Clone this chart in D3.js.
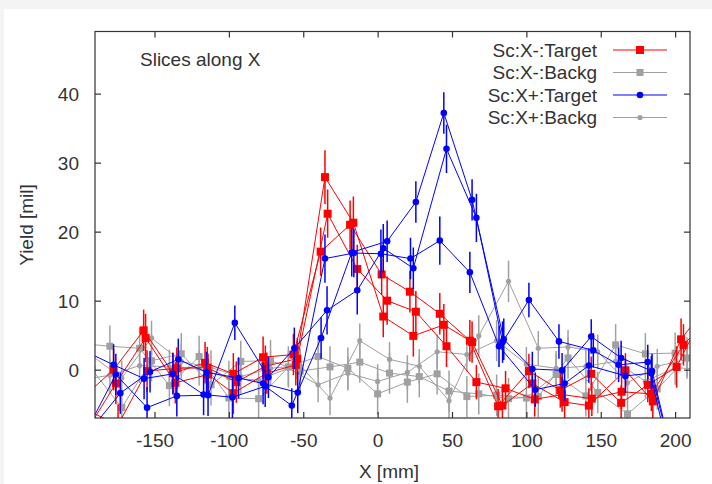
<!DOCTYPE html>
<html>
<head>
<meta charset="utf-8">
<script src="https://cdn.jsdelivr.net/npm/d3@7"></script>
<style>
  body { margin: 0; background: #f4f4f4; }
  svg text { font-family: "Liberation Sans", Arial, sans-serif; fill: #333; }
</style>
</head>
<body>
<div id="chart"></div>
<script>
// ---- data ----
// Sc:X-:Target (three slices)
var redX1 = [-198, -177.5, -157.3, -137.6, -116, -97, -77, -56.6, -38.3, -18.5, 2.7, 21.7, 41.8, 62, 81, 101.7, 122.8, 143.6, 163.7, 181.6, 201, 221];
var redY1 = [-4, 0, 5.7, -0.5, 1, -0.6, 1.8, 2.2, 17.1, 21.0, 13.8, 11.3, 8.1, 4.2, -5.3, -0.2, -3, -0.6, -4.8, -2.2, 0.4, 9];
var redE1 = [3, 3, 3, 3, 3, 3, 3, 3, 3.5, 3.5, 3, 3, 3, 3, 2.5, 2.5, 2.5, 2.5, 2.5, 2.5, 3, 3];
var redX2 = [-196, -176, -156, -136, -114, -97, -74.5, -55, -35.4, -16.3, 3.8, 24, 44.5, 63.5, 83.9, 104, 125.7, 142, 166.6, 185, 204, 224];
var redY2 = [-9, -2, 4.6, -1.9, -0.7, -3.4, -0.5, 0.7, 27.9, 21.3, 7.7, 4.9, 6.5, 4.0, -5.2, -2, -4.7, -5.2, -0.1, -4.6, 4.4, 10];
var redE2 = [3, 3, 3.5, 3, 3, 3, 3, 3, 3.9, 3.8, 3, 3, 3, 3, 2.5, 2.5, 2.5, 2.5, 2.5, 2.5, 3, 3];
var redX3 = [-194, -174.5, -155, -135, -114.5, -95, -75.5, -54, -33.6, -13.7, 6.4, 25.7, 46.3, 66.4, 86, 105.6, 124, 144, 164, 184, 205.6, 225];
var redY3 = [-6, -8, -0.2, 0.2, 0.3, -1.8, 0.5, 1.6, 22.6, 14.6, 10, 8.4, 3.4, -1.8, -2.7, -4.3, -3.6, -4.2, -3.2, -3.5, 3.6, 8];
var redE3 = [3, 3, 3, 3, 3, 3, 3, 3, 3.5, 3.5, 3.5, 3, 3, 2.5, 2.5, 2.5, 2.5, 2.5, 2.5, 2.5, 3, 3];

// Sc:X+:Target (three slices)
var bluX1 = [-198, -177.5, -157, -137.6, -117, -97.6, -75.6, -57.7, -38, -17.4, 6.4, 25.7, 44.5, 63.5, 84.8, 104, 124, 143.6, 163.7, 184.5, 204];
var bluY1 = [2.8, 0.7, -1.3, -0.6, -3.6, -4, -2.4, -5.2, 4.6, 17, 18.6, 24.3, 37.2, 24.6, 4.4, 0.1, -0.1, 4.8, 1.7, -0.2, -18];
var bluE1 = [3, 3, 3, 3, 3, 3, 3, 2.5, 3, 3.5, 3, 3, 3, 3, 3, 2.5, 2.5, 2.5, 2.5, 2.5, 3];
var bluX2 = [-196, -176, -155, -135, -114, -96, -73.4, -56, -34, -13.7, 3.8, 24, 46.3, 66.4, 84, 101.7, 121.9, 145, 162, 181.6, 202];
var bluY2 = [-9, -0.7, -5.5, -3.8, -3.7, 6.8, -1.1, 3.1, 8.6, 11.5, 17.6, 14.7, 32.0, 22.0, 4.0, 10.1, 4.1, 2.8, 0.7, 1.1, -18];
var bluE2 = [3, 3, 3, 3, 3, 2.5, 3, 3, 3.5, 3.5, 3.5, 3, 3.5, 3.5, 3, 2.5, 2.5, 2.5, 2.5, 2.5, 3];
var bluX3 = [-194, -173, -153, -134, -115, -93.5, -77, -53.7, -35.4, -16, 2.2, 22.1, 41.8, 62, 81.6, 106, 125.7, 142, 166.6, 184, 204];
var bluY3 = [-9, -3.4, -0.3, 1.5, -0.4, -1.2, -2, -3.3, 16.1, 16.9, 16.8, 16.1, 18.7, 14.1, 3.4, -2.9, -2, 0.6, -0.9, -0.5, -18];
var bluE3 = [3, 3, 3, 3, 3, 3, 3, 3, 3.5, 3.5, 3.5, 3, 3.5, 3, 3, 2.5, 2.5, 2.5, 2.5, 2.5, 3];

// Sc:X-:Backg (squares)
var gsqX1 = [-200, -180, -160, -140, -120, -100, -80, -60, -40, -20, 0, 20, 40, 60, 80, 100, 120, 140, 160, 180, 200, 220];
var gsqY1 = [3.8, 3.4, 3.1, -2.3, 1.9, -4.1, -4.2, 0.4, 1.9, 0.2, -3.5, -1.8, -0.6, -3.9, -3.7, -4.1, -0.7, -3.8, 3.6, 2.3, 2.4, 1.5];
var gsqE1 = [3, 3, 3, 3, 3, 3, 3, 3, 3, 3, 3, 3, 3, 3, 3, 3, 3, 3, 3, 3, 3, 3];
var gsqX2 = [-192, -172, -152, -132, -112, -92, -72, -52, -32, -12, 8, 28, 48, 68, 88, 108, 128, 148, 168, 188, 208, 228];
var gsqY2 = [0, -5.5, 1.3, 2.3, -2.2, 1.2, 1.3, -0.2, 0.4, 1.1, -0.5, -1, -3.1, -3.5, -4.2, -3.9, 1.7, -3.3, -6.4, -2.8, 1.7, 2];
var gsqE2 = [3, 2.5, 3, 3, 3, 3, 3, 3, 3, 3, 3, 3, 3, 3, 3, 3, 3, 3, 2.5, 3, 3, 3];
// Sc:X+:Backg (circles)
var gciX1 = [-200, -180, -160, -140, -120, -100, -80, -60, -40, -20, 0, 20, 40, 60, 80, 100, 120, 140, 160, 180, 200, 220];
var gciY1 = [-1.5, -0.8, 0.6, 0.4, 0.2, -1.2, -1.5, 0.2, -2.2, -0.5, -1.7, -0.4, 2.6, 2.2, 4.2, 0.8, 0.2, 0.5, 1.2, -1.7, 0.3, 0];
var gciE1 = [2.5, 2.5, 2.5, 2.5, 2.5, 2.5, 2.5, 2.5, 2.5, 2.5, 2.5, 2.5, 2.5, 2.5, 3, 2.5, 2.5, 2.5, 2.5, 2.5, 2.5, 2.5];
var gciX2 = [-192, -172, -152, -132, -112, -92, -72, -52, -32, -12, 8, 28, 48, 68, 88, 108, 128, 148, 168, 188, 208, 228];
var gciY2 = [2, -1.2, 4.6, 1.2, 0.3, -1, 0.2, 0.6, -4.1, 4.2, 1.5, 0.5, -4.5, 4.9, 12.8, 3.1, 3.3, 2.6, -1.9, 0.5, 1.5, 2];
var gciE2 = [2.5, 2.5, 2.5, 2.5, 2.5, 2.5, 2.5, 2.5, 2.5, 2.5, 2.5, 2.5, 2.5, 3, 3, 2.5, 2.5, 2.5, 2.5, 2.5, 2.5, 2.5];

var xTicks = [-150, -100, -50, 0, 50, 100, 150, 200];
var yTicks = [0, 10, 20, 30, 40];
var legendNames = ["Sc:X-:Target", "Sc:X-:Backg", "Sc:X+:Target", "Sc:X+:Backg"];

// ---- layout ----
var width = 712, height = 484;
var mLeft = 95, mRight = 690, mTop = 31.5, mBottom = 418;
var fs = "19px";

var svg = d3.select("#chart").append("svg")
    .attr("width", width)
    .attr("height", height);

svg.append("rect").attr("width", width).attr("height", height).attr("fill", "#f4f4f4");
svg.append("rect").attr("x", 4).attr("y", 9).attr("width", width - 4).attr("height", height - 9).attr("fill", "#fff");

var x = d3.scaleLinear().domain([-190, 210]).range([mLeft, mRight]);
var y = d3.scaleLinear().domain([-7, 49]).range([mBottom, mTop]);

svg.append("clipPath").attr("id", "plotclip")
  .append("rect").attr("x", mLeft).attr("y", mTop).attr("width", mRight - mLeft).attr("height", mBottom - mTop);

function zip(xs, ys, es) {
    return xs.map(function (d, i) { return { x: d, y: ys[i], e: es[i] }; });
}

// series styles: colour, marker, marker size
var series = [
    { curves: [zip(gsqX1, gsqY1, gsqE1), zip(gsqX2, gsqY2, gsqE2)], color: "#a0a0a0", shape: "square", size: 7 },
    { curves: [zip(gciX1, gciY1, gciE1), zip(gciX2, gciY2, gciE2)], color: "#a0a0a0", shape: "circle", size: 2.6 },
    { curves: [zip(redX1, redY1, redE1), zip(redX2, redY2, redE2), zip(redX3, redY3, redE3)], color: "#ff0000", shape: "square", size: 8 },
    { curves: [zip(bluX1, bluY1, bluE1), zip(bluX2, bluY2, bluE2), zip(bluX3, bluY3, bluE3)], color: "#0000ff", shape: "circle", size: 3.3 }
];

var plot = svg.append("g").attr("clip-path", "url(#plotclip)");
var line = d3.line().x(function (d) { return x(d.x); }).y(function (d) { return y(d.y); });

function drawMarker(g, shape, size, color) {
    if (shape === "square") {
        g.append("rect").attr("x", -size / 2).attr("y", -size / 2)
            .attr("width", size).attr("height", size).attr("fill", color);
    } else {
        g.append("circle").attr("r", size).attr("fill", color);
    }
}

series.forEach(function (s) {
    s.curves.forEach(function (c) {
        plot.append("path").datum(c)
            .attr("d", line)
            .attr("fill", "none")
            .attr("stroke", s.color)
            .attr("stroke-width", 1);

        plot.selectAll(null).data(c).enter().append("line")
            .attr("x1", function (d) { return x(d.x); })
            .attr("x2", function (d) { return x(d.x); })
            .attr("y1", function (d) { return y(d.y - d.e); })
            .attr("y2", function (d) { return y(d.y + d.e); })
            .attr("stroke", s.color)
            .attr("stroke-width", 1.5);

        plot.selectAll(null).data(c).enter().append("g")
            .attr("transform", function (d) { return "translate(" + x(d.x) + "," + y(d.y) + ")"; })
            .each(function () { drawMarker(d3.select(this), s.shape, s.size, s.color); });
    });
});

// ---- axes (gnuplot style: inward ticks, mirrored) ----
var plain = function (d) { return String(d); };
var gx = svg.append("g").attr("transform", "translate(0," + mBottom + ")")
    .call(d3.axisBottom(x).tickValues(xTicks).tickSize(-6).tickFormat(plain));
var gx2 = svg.append("g").attr("transform", "translate(0," + mTop + ")")
    .call(d3.axisTop(x).tickValues(xTicks).tickSize(-6).tickFormat(""));
var gy = svg.append("g").attr("transform", "translate(" + mLeft + ",0)")
    .call(d3.axisLeft(y).tickValues(yTicks).tickSize(-6).tickFormat(plain));
var gy2 = svg.append("g").attr("transform", "translate(" + mRight + ",0)")
    .call(d3.axisRight(y).tickValues(yTicks).tickSize(-6).tickFormat(""));

[gx, gx2, gy, gy2].forEach(function (g) {
    g.select(".domain").remove();
    g.selectAll(".tick line").attr("stroke", "#333").attr("stroke-width", 1.2);
    g.selectAll("text").attr("font-size", fs).attr("font-family", "Liberation Sans, Arial, sans-serif").attr("fill", "#333");
});
gx.selectAll("text").attr("dy", null).attr("y", 29);
gy.selectAll("text").attr("x", -16).attr("dy", "0.35em");

svg.append("rect")
    .attr("x", mLeft).attr("y", mTop)
    .attr("width", mRight - mLeft).attr("height", mBottom - mTop)
    .attr("fill", "none").attr("stroke", "#333").attr("stroke-width", 1.2);

svg.append("text").attr("x", 389).attr("y", 478).attr("text-anchor", "middle")
    .attr("font-size", fs).text("X [mm]");
svg.append("text").attr("transform", "translate(32.5,225) rotate(-90)")
    .attr("text-anchor", "middle").attr("font-size", fs).text("Yield [mil]");
svg.append("text").attr("x", 140).attr("y", 65.5).attr("font-size", fs).text("Slices along X");

// ---- legend ----
var legendStyles = [series[2], series[0], series[3], series[1]];
var legend = svg.append("g");
legendNames.forEach(function (name, i) {
    var cy = 50 + i * 22.5;
    var s = legendStyles[i];
    legend.append("text").attr("x", 597).attr("y", cy + 6.5)
        .attr("text-anchor", "end").attr("font-size", fs).text(name);
    legend.append("line").attr("x1", 613).attr("x2", 667).attr("y1", cy).attr("y2", cy)
        .attr("stroke", s.color).attr("stroke-width", 1);
    var g = legend.append("g").attr("transform", "translate(640," + cy + ")");
    drawMarker(g, s.shape, s.size, s.color);
});
</script>
</body>
</html>
